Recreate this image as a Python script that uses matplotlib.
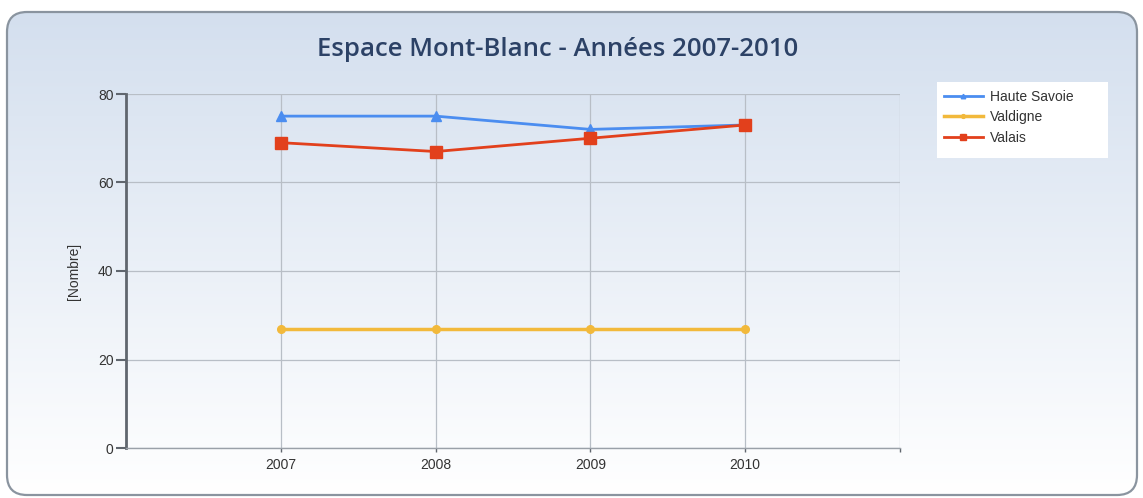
import numpy as np
import matplotlib
matplotlib.use("Agg")
import matplotlib.pyplot as plt
from matplotlib.patches import FancyBboxPatch, Rectangle

# --------------------------
# Data
# --------------------------
years = [2007, 2008, 2009, 2010]
haute_savoie = [75, 75, 72, 73]
valdigne = [27, 27, 27, 27]
valais = [69, 67, 70, 73]
y_ticks = [0, 20, 40, 60, 80]

W, H = 1143, 498

# --------------------------
# Figure + background panel
# --------------------------
fig = plt.figure(figsize=(W / 100, H / 100), dpi=100)
fig.patch.set_facecolor("white")

bg = fig.add_axes([0, 0, 1, 1])
bg.set_xlim(0, 1)
bg.set_ylim(0, 1)
bg.axis("off")

top = np.array([0.83, 0.875, 0.935])
bottom = np.array([1.0, 1.0, 1.0])
colors = np.zeros((256, 2, 3))
for i, t in enumerate(np.linspace(0, 1, 256)):
    colors[i, :, :] = top * (1 - t) + bottom * t

x0, x1 = 7 / W, 1137 / W
y0, y1 = 1 - 495 / H, 1 - 12 / H
panel = FancyBboxPatch((x0, y0), x1 - x0, y1 - y0,
                       boxstyle="round,pad=0,rounding_size=%f" % (20 / W),
                       mutation_aspect=W / H,
                       transform=bg.transAxes, facecolor="none",
                       edgecolor="#8a949f", linewidth=1.6, zorder=3)
bg.add_patch(panel)
im = bg.imshow(colors, extent=[0, 1, y0, y1], aspect="auto", origin="upper", zorder=1)
im.set_clip_path(panel)

# legend box (white, no border)
bg.add_patch(Rectangle((937 / W, 1 - 158 / H), (1108 - 937) / W, (158 - 82) / H,
                       transform=bg.transAxes, facecolor="white",
                       edgecolor="none", zorder=4))

# --------------------------
# Main plot
# --------------------------
ax = fig.add_axes([126 / W, 1 - 448 / H, (900 - 126) / W, (448 - 94) / H])
ax.patch.set_alpha(0)

ax.plot(years, haute_savoie, color="#4b8df0", lw=2, marker="^", ms=6.5,
        label="Haute Savoie", zorder=4)
ax.plot(years, valdigne, color="#f2b93b", lw=2.5, marker="o", ms=5.5,
        label="Valdigne", zorder=4)
ax.plot(years, valais, color="#e2401c", lw=2, marker="s", ms=8,
        label="Valais", zorder=5)

ax.set_xlim(2006, 2011)
ax.set_ylim(0, 80)
ax.set_xticks(years + [2011])
ax.set_xticklabels([str(y) for y in years] + [""])
ax.set_yticks(y_ticks)
ax.grid(True, color="#b8bec6", lw=0.9)
ax.set_axisbelow(True)

for s in ["top", "right"]:
    ax.spines[s].set_visible(False)
ax.spines["left"].set_color("#60666e")
ax.spines["left"].set_linewidth(2)
ax.spines["bottom"].set_color("#9aa0a8")
ax.spines["bottom"].set_linewidth(1)
ax.tick_params(axis="y", direction="out", length=7, width=1.5, color="#60666e",
               labelsize=10, labelcolor="#333333", pad=2)
ax.tick_params(axis="x", direction="out", length=3, width=1, color="#60666e",
               labelsize=10, labelcolor="#333333", pad=4)
for lab in ax.get_xticklabels() + ax.get_yticklabels():
    lab.set_family("Liberation Sans")

ax.set_ylabel("[Nombre]", fontsize=10, color="#333333", labelpad=12,
              family="Liberation Sans")

fig.text(558 / W, 1 - 49 / H, "Espace Mont-Blanc - Années 2007-2010",
         ha="center", va="center", fontsize=18.5, fontweight="semibold",
         family="Open Sans", color="#2c4266")

leg = ax.legend(loc="upper left", bbox_to_anchor=(944 / W, 1 - 90 / H),
                bbox_transform=fig.transFigure, frameon=False,
                prop={"family": "Liberation Sans", "size": 10},
                handlelength=2.8, handletextpad=0.5, markerscale=0.5,
                borderpad=0, labelspacing=0.45, borderaxespad=0)
for t in leg.get_texts():
    t.set_color("#333333")

fig.savefig("out.png", dpi=100)
